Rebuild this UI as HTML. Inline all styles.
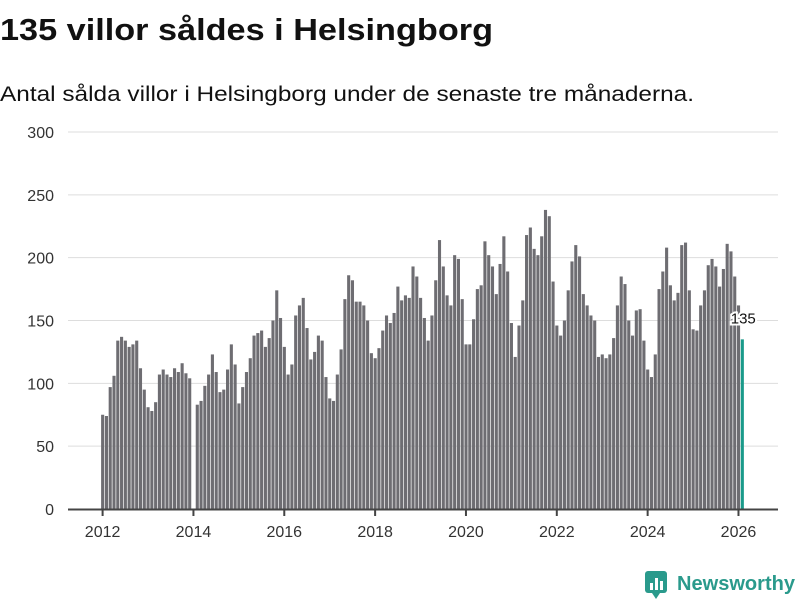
<!DOCTYPE html>
<html><head><meta charset="utf-8"><style>
body{margin:0;background:#fff;}
svg{display:block;font-family:"Liberation Sans",sans-serif;}
</style></head><body>
<svg id="chart" width="800" height="600" viewBox="0 0 800 600">
<text x="0" y="40" font-size="31" font-weight="bold" fill="#111" textLength="493" lengthAdjust="spacingAndGlyphs">135 villor såldes i Helsingborg</text>
<text x="0" y="101" font-size="21" fill="#111" textLength="694" lengthAdjust="spacingAndGlyphs">Antal sålda villor i Helsingborg under de senaste tre månaderna.</text>
<g id="grid"></g>
<g id="bars"></g>
<g id="xaxis"></g>
<g>
<rect x="645" y="571" width="22" height="22" rx="3" fill="#2a9a8c"/>
<rect x="650" y="583" width="3" height="7" fill="#fff"/><rect x="655" y="578" width="3" height="12" fill="#fff"/><rect x="660" y="581" width="3" height="9" fill="#fff"/>
<path d="M652 593 L656 599 L660 593 Z" fill="#2a9a8c"/>
<text x="677" y="590" font-size="20" font-weight="bold" fill="#2a9a8c" textLength="118" lengthAdjust="spacingAndGlyphs">Newsworthy</text>
</g>
</svg>
<script>
const startYear = 2012;
const yTicks = [0,50,100,150,200,250,300];
const xTickYears = [2012,2014,2016,2018,2020,2022,2024,2026];
const v2012 = [75,74,97,106,134,137,134,129,131,134,112,95];
const v2013 = [81,78,85,107,111,107,105,112,109,116,108,104];
const v2014 = [null,83,86,98,107,123,109,93,95,111,131,115];
const v2015 = [84,97,109,120,138,140,142,129,136,150,174,152];
const v2016 = [129,107,115,154,162,168,144,119,125,138,134,105];
const v2017 = [88,86,107,127,167,186,182,165,165,162,150,124];
const v2018 = [120,128,142,154,148,156,177,166,170,168,193,185];
const v2019 = [168,152,134,154,182,214,193,170,162,202,199,167];
const v2020 = [131,131,151,175,178,213,202,193,171,195,217,189];
const v2021 = [148,121,146,166,218,224,207,202,217,238,233,181];
const v2022 = [146,138,150,174,197,210,201,171,162,154,150,121];
const v2023 = [123,120,123,136,162,185,179,150,138,158,159,134];
const v2024 = [111,105,123,175,189,208,178,166,172,210,212,174];
const v2025 = [143,142,162,174,194,199,193,177,191,211,205,185];
const v2026 = [162,135];
const values = [].concat(v2012,v2013,v2014,v2015,v2016,v2017,v2018,v2019,v2020,v2021,v2022,v2023,v2024,v2025,v2026);

const NS = "http://www.w3.org/2000/svg";
function xScale(i){ return 102.6 + i*3.785; }
function yScale(v){ return 509 - v*(377/300); }
function mk(tag, attrs, parent){ const e=document.createElementNS(NS,tag); for(const k in attrs) e.setAttribute(k,attrs[k]); parent.appendChild(e); return e; }

const grid = document.getElementById('grid');
yTicks.forEach(t=>{
  if(t>0){
    const l = mk('line',{x1:68,x2:778,y1:yScale(t),y2:yScale(t),stroke:'#dddddd','stroke-width':1},grid);
    
    
  }
  const tx = mk('text',{x:54,y:yScale(t)+6,'font-size':16,fill:'#333','text-anchor':'end'},grid);
  tx.textContent = t;
  
  
});

const bars = document.getElementById('bars');
values.forEach((v,i)=>{
  if(v===null) return;
  const last = i===values.length-1;
  const r = mk('rect',{x:xScale(i)-1.5,y:yScale(v),width:3.1,height:509-yScale(v),fill:last?'#1a9a8a':'#6e6d72'},bars);
  
  
});
const li = values.length-1;
const lbl = mk('text',{x:xScale(li)+1,y:yScale(values[li])-16,'font-size':15,fill:'#111','text-anchor':'middle',stroke:'#fff','stroke-width':4,'paint-order':'stroke'},bars);
lbl.textContent = values[li];



const xa = document.getElementById('xaxis');
const ax = mk('line',{x1:68,x2:778,y1:509.5,y2:509.5,stroke:'#444','stroke-width':2},xa);


xTickYears.forEach(yr=>{
  const x = xScale((yr-startYear)*12);
  const tk = mk('line',{x1:x,x2:x,y1:509,y2:516,stroke:'#444','stroke-width':2},xa);
  
  
  const t = mk('text',{x:x,y:537,'font-size':16,fill:'#333','text-anchor':'middle'},xa);
  t.textContent = yr;
  
  
});
</script>
</body></html>
